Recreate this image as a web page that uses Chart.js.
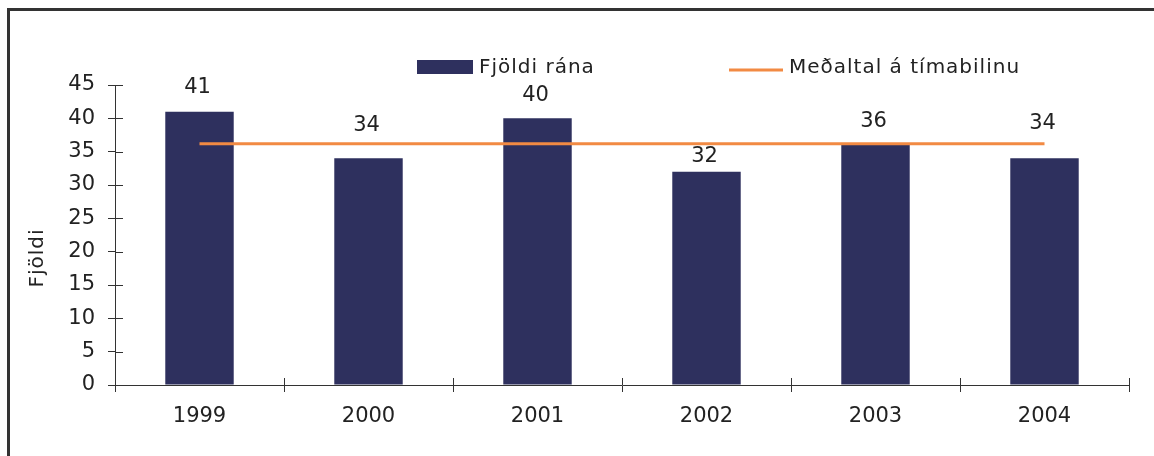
<!DOCTYPE html>
<html>
<head>
<meta charset="utf-8">
<script src="https://cdn.jsdelivr.net/npm/chart.js@4/dist/chart.umd.min.js"></script>
<style>
    html, body { margin: 0; padding: 0; background: #fff; overflow: hidden; }
    #wrap { position: relative; width: 1154px; height: 456px; }
    #frame {
        position: absolute; left: 7px; top: 8px; width: 1200px; height: 500px;
        border-left: 3px solid #333; border-top: 3px solid #333;
    }
    #chart { position: absolute; left: 0; top: 0; }
</style>
</head>
<body>
<div id="wrap">
    <div id="frame"></div>
    <canvas id="chart" width="1154" height="456"></canvas>
</div>
<script>
// Data
const years = ['1999', '2000', '2001', '2002', '2003', '2004'];
const robberies = [41, 34, 40, 32, 36, 34];
const average = [36.17, 36.17, 36.17, 36.17, 36.17, 36.17];
const yTicks = [0, 5, 10, 15, 20, 25, 30, 35, 40, 45];

const barLabel = 'Fjöldi rána';
const lineLabel = 'Meðaltal á tímabilinu';
const axisTitle = 'Fjöldi';

// gap (px) between bar top and value label, labels sit unevenly in the original
const labelGap = [24.5, 33, 23, 15.5, 23, 34.5];

const navy = '#2e305e';
const orange = '#f28a43';
const ink = '#222';
const fontFamily = '"DejaVu Sans", sans-serif';

const decorPlugin = {
    id: 'decor',
    afterDraw(chart) {
        const ctx = chart.ctx;
        const xs = chart.scales.x;
        const ys = chart.scales.y;
        const area = chart.chartArea;
        ctx.save();

        // inside halves of the crossing tick marks
        ctx.strokeStyle = '#333';
        ctx.lineWidth = 1;
        ctx.beginPath();
        yTicks.forEach(function(v) {
            const y = Math.round(ys.getPixelForValue(v)) + 0.5;
            ctx.moveTo(area.left, y);
            ctx.lineTo(area.left + 8, y);
        });
        const catW = xs.width / years.length;
        for (let i = 0; i <= years.length; i++) {
            const x = Math.round(xs.left + i * catW) + 0.5;
            ctx.moveTo(x, area.bottom);
            ctx.lineTo(x, area.bottom - 7);
        }
        ctx.stroke();

        // value labels above bars
        ctx.fillStyle = ink;
        ctx.font = '21px ' + fontFamily;
        ctx.textAlign = 'center';
        ctx.textBaseline = 'middle';
        const bars = chart.getDatasetMeta(1).data;
        bars.forEach(function(bar, i) {
            ctx.fillText(String(robberies[i]), bar.x - 2, bar.y - labelGap[i]);
        });

        // y axis title
        ctx.letterSpacing = '1px';
        ctx.save();
        ctx.translate(38, 258);
        ctx.rotate(-Math.PI / 2);
        ctx.font = '20px ' + fontFamily;
        ctx.fillText(axisTitle, 0, 0);
        ctx.restore();

        // legend
        ctx.textAlign = 'left';
        ctx.font = '20px ' + fontFamily;
        ctx.fillStyle = navy;
        ctx.fillRect(417, 60, 56, 14);
        ctx.fillStyle = ink;
        ctx.fillText(barLabel, 479, 68);
        ctx.strokeStyle = orange;
        ctx.lineWidth = 3;
        ctx.beginPath();
        ctx.moveTo(729, 70);
        ctx.lineTo(783, 70);
        ctx.stroke();
        ctx.fillText(lineLabel, 789, 68);

        ctx.letterSpacing = '0px';
        ctx.restore();
    }
};

const ctx = document.getElementById('chart').getContext('2d');
new Chart(ctx, {
    type: 'bar',
    data: {
        labels: years,
        datasets: [{
            type: 'line',
            label: lineLabel,
            data: average,
            borderColor: orange,
            borderWidth: 3,
            pointRadius: 0,
            fill: false,
            tension: 0,
            order: 0
        }, {
            type: 'bar',
            label: barLabel,
            data: robberies,
            backgroundColor: navy,
            borderWidth: 0,
            categoryPercentage: 1,
            barPercentage: 0.405,
            order: 1
        }]
    },
    options: {
        responsive: false,
        animation: false,
        layout: { padding: { top: 85, right: 25, left: 0, bottom: 0 } },
        plugins: {
            legend: { display: false },
            tooltip: { enabled: false }
        },
        scales: {
            x: {
                afterFit: function(s) { s.height = 71; },
                grid: { drawOnChartArea: false, offset: true, color: '#333', tickLength: 7 },
                border: { color: '#333', width: 1 },
                ticks: { color: ink, font: { family: fontFamily, size: 21 }, padding: 12 }
            },
            y: {
                min: 0,
                max: 45,
                afterFit: function(s) { s.width = 115; },
                afterBuildTicks: function(s) { s.ticks = yTicks.map(function(v) { return { value: v }; }); },
                grid: { drawOnChartArea: false, color: '#333', tickLength: 7 },
                border: { color: '#333', width: 1 },
                ticks: { color: ink, font: { family: fontFamily, size: 21 }, padding: 13 }
            }
        }
    },
    plugins: [decorPlugin]
});
</script>
</body>
</html>
